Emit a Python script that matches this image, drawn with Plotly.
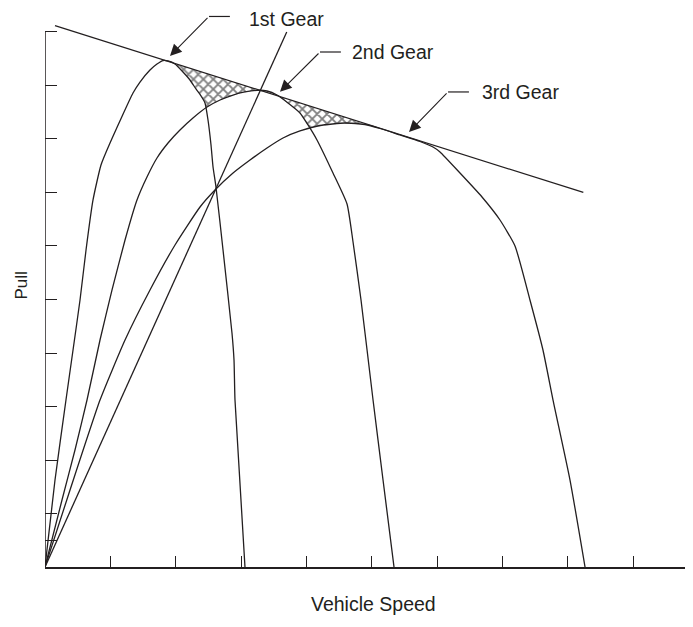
import numpy as np
import plotly.graph_objects as go

# gear pull curves (speed, pull), in tick units
gear1_speed = [0, 0.153, 0.321, 0.429, 0.536, 0.628, 0.735, 0.857, 0.995, 1.347, 1.454, 1.607,
               1.714, 1.806, 1.883, 1.990, 2.112, 2.219, 2.311, 2.388, 2.449, 2.495, 2.541,
               2.572, 2.617, 2.725, 2.862, 2.893, 2.908, 3.061]
gear1_pull = [0, 1.626, 3.121, 4.056, 4.991, 5.925, 6.860, 7.514, 7.925, 8.860, 9.065, 9.290,
              9.402, 9.467, 9.458, 9.402, 9.252, 9.103, 8.935, 8.804, 8.673, 8.355, 7.888,
              7.477, 7.103, 5.925, 4.374, 3.869, 3.121, 0]

gear2_speed = [0, 0.260, 0.459, 0.643, 0.842, 1.026, 1.225, 1.408, 1.561, 1.714, 1.883, 2.066,
               2.265, 2.480, 2.679, 2.878, 3.061, 3.245, 3.398, 3.551, 3.720, 3.903, 4.026,
               4.163, 4.408, 4.623, 4.715, 4.837, 5.021, 5.174, 5.342]
gear2_pull = [0, 1.252, 2.187, 3.121, 4.243, 5.178, 6.112, 6.860, 7.290, 7.645, 7.925, 8.168,
              8.393, 8.598, 8.729, 8.822, 8.879, 8.910, 8.897, 8.822, 8.673, 8.486, 8.262,
              7.981, 7.364, 6.785, 6.075, 4.991, 3.121, 1.626, 0]

gear3_speed = [0, 0.383, 0.842, 1.225, 1.607, 1.990, 2.373, 2.602, 2.878, 3.138, 3.398, 3.643,
               3.903, 4.209, 4.592, 4.898, 5.128, 5.434, 5.740, 5.939, 6.046, 6.352, 6.689,
               6.964, 7.194, 7.423, 7.622, 7.776, 8.036, 8.266]
gear3_pull = [0, 1.439, 3.121, 4.243, 5.178, 6.019, 6.729, 7.047, 7.364, 7.607, 7.832, 8.019,
              8.150, 8.252, 8.299, 8.271, 8.196, 8.075, 7.953, 7.850, 7.757, 7.364, 6.916,
              6.486, 6.000, 4.991, 4.056, 3.121, 1.626, 0]

# straight line from the origin and the ideal (tangent) pull line
ray_speed = [0, 3.70]
ray_pull = [0, 10.0]
ideal_speed = [0.153, 8.24]
ideal_pull = [10.12, 7.0]

# hatched gap between ideal line and gear envelope
hatch_from, hatch_to = 1.806, 5.128

labels = ["1st Gear", "2nd Gear", "3rd Gear"]
label_tip_x = [1.913, 3.597, 5.572]
label_tip_y = [9.551, 8.884, 8.131]
label_elbow_x = [2.510, 4.209, 6.169]
label_y = [10.29, 9.626, 8.879]
label_text_x = [3.092, 4.669, 6.658]
label_text_y = [10.25, 9.626, 8.879]

x_ticks = [1, 2, 3, 4, 5, 6, 7, 8, 9]
y_ticks = [0.5, 1, 2, 3, 4, 5, 6, 7, 8, 9, 10]

ink = "#231f20"
font = "Liberation Sans, Arial, sans-serif"

fig = go.Figure()

# hatch polygon
xs = np.linspace(hatch_from, hatch_to, 200)
top = np.interp(xs, ideal_speed, ideal_pull)
env = np.maximum.reduce([
    np.interp(xs, gear1_speed, gear1_pull, left=0, right=0),
    np.interp(xs, gear2_speed, gear2_pull, left=0, right=0),
    np.interp(xs, gear3_speed, gear3_pull, left=0, right=0),
])
env = np.minimum(env, top)
fig.add_trace(go.Scatter(
    x=np.concatenate([xs, xs[::-1]]), y=np.concatenate([top, env[::-1]]),
    mode="lines", fill="toself", line=dict(width=0), fillcolor="rgba(0,0,0,0)",
    fillpattern=dict(shape="x", size=7, solidity=0.45, fgcolor="black", bgcolor="white"),
    hoverinfo="skip", showlegend=False))

for sx, sy in [(gear1_speed, gear1_pull), (gear2_speed, gear2_pull), (gear3_speed, gear3_pull)]:
    fig.add_trace(go.Scatter(x=sx, y=sy, mode="lines",
                             line=dict(color=ink, width=1.3, shape="spline", smoothing=0.5),
                             showlegend=False, hoverinfo="skip", cliponaxis=False))
for sx, sy in [(ray_speed, ray_pull), (ideal_speed, ideal_pull)]:
    fig.add_trace(go.Scatter(x=sx, y=sy, mode="lines", line=dict(color=ink, width=1.3),
                             showlegend=False, hoverinfo="skip", cliponaxis=False))

# y axis line up to the top tick
fig.add_shape(type="line", x0=0, y0=0, x1=0, y1=10, xref="x", yref="y",
              line=dict(color=ink, width=1.5))

for i, txt in enumerate(labels):
    fig.add_shape(type="line", x0=label_elbow_x[i], y0=label_y[i],
                  x1=label_elbow_x[i] + 0.32, y1=label_y[i], xref="x", yref="y",
                  line=dict(color=ink, width=1.2))
    fig.add_annotation(x=label_tip_x[i], y=label_tip_y[i], ax=label_elbow_x[i], ay=label_y[i],
                       axref="x", ayref="y", xref="x", yref="y", text="", showarrow=True,
                       arrowhead=2, arrowsize=2.1, arrowwidth=1.1, arrowcolor=ink, standoff=0)
    fig.add_annotation(x=label_text_x[i], y=label_text_y[i], xref="x", yref="y", text=txt,
                       showarrow=False, xanchor="left", yanchor="middle",
                       font=dict(family=font, size=19.5, color=ink))

fig.add_annotation(x=0.5125, y=-0.067, xref="paper", yref="paper", text="Vehicle Speed",
                   showarrow=False, xanchor="center", yanchor="middle",
                   font=dict(family=font, size=19.5, color=ink))
fig.add_annotation(x=-0.037, y=0.506, xref="paper", yref="paper", text="Pull", showarrow=False,
                   xanchor="center", yanchor="middle", textangle=-90,
                   font=dict(family=font, size=17, color=ink))

# page body adds an 8px margin, so the figure is trimmed to keep the plot in place
fig.update_layout(
    width=677, height=611,
    margin=dict(l=37, r=0, t=2, b=52),
    plot_bgcolor="white", paper_bgcolor="white",
    xaxis=dict(range=[0, 9.796], tickvals=x_ticks, showticklabels=False, ticks="inside",
               ticklen=11, tickwidth=1.3, tickcolor=ink, showgrid=False, zeroline=False,
               showline=True, linecolor=ink, linewidth=1.5),
    yaxis=dict(range=[0, 10.411], tickvals=y_ticks, showticklabels=False, ticks="inside",
               ticklen=12, tickwidth=1.3, tickcolor=ink, showgrid=False, zeroline=False,
               showline=False),
)

fig.write_html("out.html")
